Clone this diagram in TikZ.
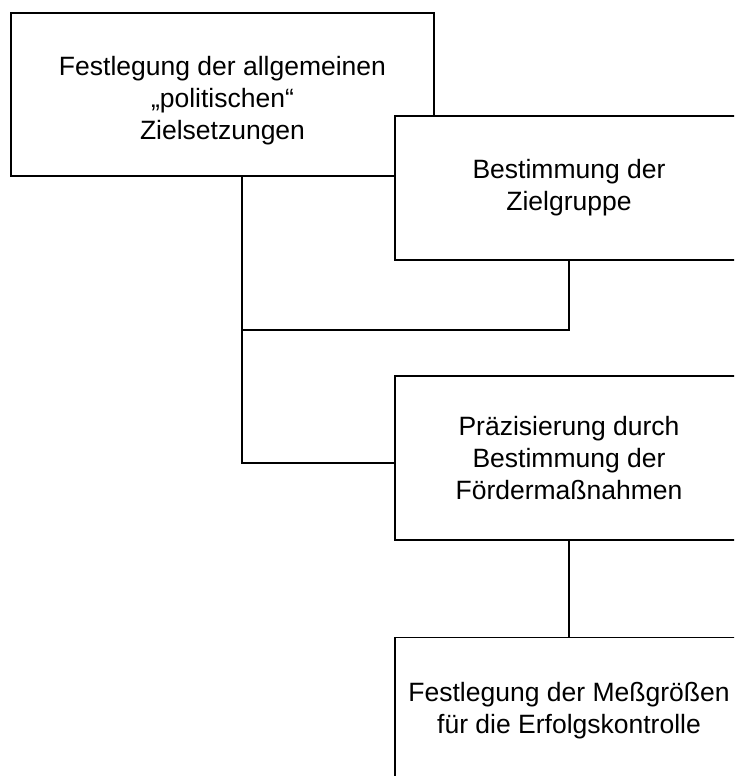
\documentclass[tikz,border=0pt]{standalone}
\usepackage{fontspec}
\setmainfont{Liberation Sans}
\usepackage{tikz}
\usetikzlibrary{positioning}

\tikzset{
	stage/.style={draw, fill=white, line width=1.5pt, rectangle, align=center,
		font=\fontsize{26.5}{32}\selectfont},
	caption/.style={align=center, font=\fontsize{26.5}{32}\selectfont},
	wire/.style={line width=1.5pt}
}

\begin{document}
\begin{tikzpicture}[x=1pt, y=-1pt]
	% Frame, boxes and wires:
	\useasboundingbox (0, 0) rectangle (734, 776);
	\clip (0, 0) rectangle (734, 776);
	\node[stage, minimum width=423pt, minimum height=163pt](N1) at (222.5, 94.5){};
	\node[caption](T1) at ([yshift=-6pt]N1.center){Festlegung der allgemeinen\\„politischen“\\Zielsetzungen};
	\node[stage, minimum width=348pt, minimum height=144pt](N2) at (569, 188){Bestimmung der\\Zielgruppe};
	\node[stage, minimum width=348pt, minimum height=164pt](N3) at (569, 458){Präzisierung durch\\Bestimmung der\\Fördermaßnahmen};
	\node[stage, minimum width=348pt, minimum height=147pt](N4) at (569, 711){Festlegung der Meßgrößen\\für die Erfolgskontrolle};
	\coordinate (J1) at (242, 330);
	\coordinate (J2) at (242, 463);
	\draw[wire] (N1.south -| J1) -- (J2) -- (J2 -| N3.west);
	\draw[wire] (N2.south) |- (J1);
	\draw[wire] (N3.south) -- (N4.north);
\end{tikzpicture}
\end{document}
